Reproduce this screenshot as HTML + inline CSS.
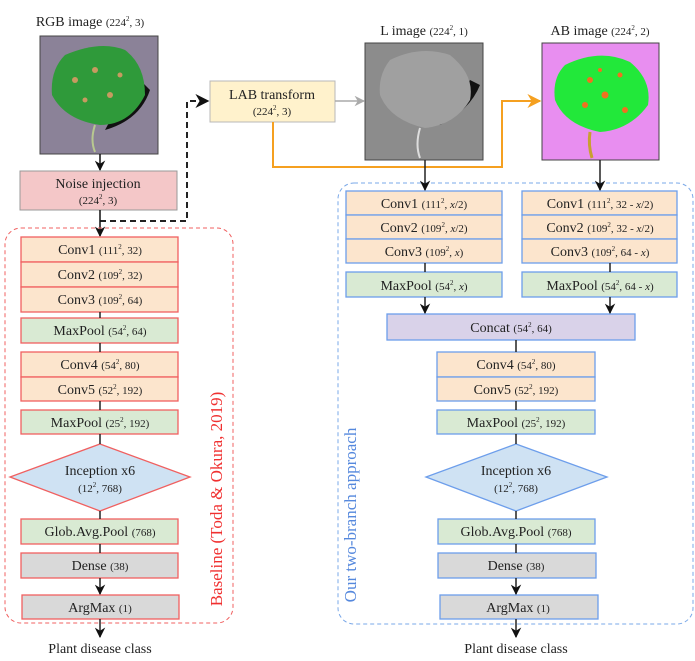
<!DOCTYPE html>
<html><head><meta charset="utf-8"><style>
body{margin:0;background:#fff}
svg{display:block;font-family:"Liberation Serif",serif}
text{fill:#222}
.s{font-size:11px}
.b{font-size:14px}
</style></head><body>
<svg width="695" height="661" viewBox="0 0 695 661" xmlns="http://www.w3.org/2000/svg">
<defs>
<marker id="a" viewBox="0 0 10 10" refX="9" refY="5" markerWidth="7" markerHeight="7" orient="auto"><path d="M0,0 L10,5 L0,10 L3,5z" fill="#111"/></marker>
<marker id="g" viewBox="0 0 10 10" refX="9" refY="5" markerWidth="7" markerHeight="7" orient="auto"><path d="M0,0 L10,5 L0,10 L3,5z" fill="#aaa"/></marker>
<marker id="o" viewBox="0 0 10 10" refX="9" refY="5" markerWidth="7" markerHeight="7" orient="auto"><path d="M0,0 L10,5 L0,10 L3,5z" fill="#f5a020"/></marker>
</defs>

<!-- titles -->
<text x="90" y="26" text-anchor="middle" class="b">RGB image <tspan class="s">(224</tspan><tspan font-size="7" dy="-5">2</tspan><tspan class="s" dy="5">, 3)</tspan></text>
<text x="424" y="35" text-anchor="middle" class="b">L image <tspan class="s">(224</tspan><tspan font-size="7" dy="-5">2</tspan><tspan class="s" dy="5">, 1)</tspan></text>
<text x="600" y="35" text-anchor="middle" class="b">AB image <tspan class="s">(224</tspan><tspan font-size="7" dy="-5">2</tspan><tspan class="s" dy="5">, 2)</tspan></text>

<!-- RGB image -->
<rect x="40" y="36" width="118" height="118" fill="#8b8298" stroke="#444"/>
<path d="M105,130 Q140,120 150,90 L135,75 Z" fill="#111"/>
<path d="M65,55 Q100,40 125,50 Q145,65 145,95 Q130,125 100,125 Q65,120 52,95 Q50,70 65,55Z" fill="#2f9a3a"/>
<path d="M95,125 Q90,140 95,152" stroke="#b8c890" stroke-width="2" fill="none"/>
<circle cx="75" cy="80" r="3" fill="#c89a60"/><circle cx="95" cy="70" r="3" fill="#c89a60"/><circle cx="110" cy="95" r="3" fill="#c89a60"/><circle cx="120" cy="75" r="2.5" fill="#c89a60"/><circle cx="85" cy="100" r="2.5" fill="#c89a60"/>

<!-- L image -->
<rect x="365" y="43" width="118" height="117" fill="#8c8c8c" stroke="#444"/>
<path d="M440,125 Q470,110 480,85 L470,80 Q455,110 430,120Z" fill="#111"/>
<path d="M390,60 Q420,45 450,55 Q475,75 470,100 Q455,125 425,128 Q390,120 380,95 Q378,75 390,60Z" fill="#a0a0a0"/>
<path d="M420,128 Q415,145 420,158" stroke="#ddd" stroke-width="2" fill="none"/>

<!-- AB image -->
<rect x="542" y="43" width="117" height="117" fill="#e88ef0" stroke="#444"/>
<path d="M565,65 Q600,48 630,62 Q652,80 648,105 Q630,130 600,132 Q565,125 555,100 Q552,78 565,65Z" fill="#22e83a"/>
<path d="M590,132 Q588,145 592,158" stroke="#c8a030" stroke-width="3" fill="none"/>
<circle cx="590" cy="80" r="3" fill="#f07020"/><circle cx="605" cy="95" r="3.5" fill="#f07020"/><circle cx="620" cy="75" r="2.5" fill="#f07020"/><circle cx="585" cy="105" r="3" fill="#f07020"/><circle cx="625" cy="110" r="3" fill="#f07020"/><circle cx="600" cy="70" r="2" fill="#f07020"/>

<!-- LAB transform -->
<rect x="210" y="81" width="125" height="41" fill="#fff2cc" stroke="#b8b8b8"/>
<text x="272" y="99" text-anchor="middle" class="b">LAB transform</text>
<text x="272" y="115" text-anchor="middle" class="s">(224<tspan font-size="7" dy="-5">2</tspan><tspan dy="5">, 3)</tspan></text>
<line x1="335" y1="101" x2="364" y2="101" stroke="#aaa" stroke-width="1.5" marker-end="url(#g)"/>
<polyline points="273,122 273,167 502,167 502,101 540,101" fill="none" stroke="#f5a020" stroke-width="2" marker-end="url(#o)"/>

<!-- Noise -->
<line x1="100" y1="154" x2="100" y2="170" stroke="#111" stroke-width="1.5" marker-end="url(#a)"/>
<rect x="20" y="171" width="157" height="39" fill="#f4c7c8" stroke="#999"/>
<text x="98" y="188" text-anchor="middle" class="b">Noise injection</text>
<text x="98" y="204" text-anchor="middle" class="s">(224<tspan font-size="7" dy="-5">2</tspan><tspan dy="5">, 3)</tspan></text>
<polyline points="100,221 187,221 187,101 208,101" fill="none" stroke="#222" stroke-width="2" stroke-dasharray="6,4" marker-end="url(#a)"/>
<line x1="100" y1="210" x2="100" y2="236" stroke="#111" stroke-width="1.5" marker-end="url(#a)"/>

<!-- red dashed container -->
<rect x="5" y="228" width="228" height="395" rx="16" fill="none" stroke="#f06060" stroke-dasharray="4,3"/>
<text transform="translate(222,499) rotate(-90)" text-anchor="middle" font-size="17" style="fill:#f03030">Baseline (Toda &amp; Okura, 2019)</text>

<!-- blue dashed container -->
<rect x="338" y="183" width="355" height="441" rx="16" fill="none" stroke="#7aa8e8" stroke-dasharray="4,3"/>
<text transform="translate(356,515) rotate(-90)" text-anchor="middle" font-size="17" style="fill:#5588dd">Our two-branch approach</text>

<!-- left column -->
<g stroke="#f06060" stroke-width="1.3">
<rect x="21" y="237" width="157" height="25" fill="#fce5cd"/>
<rect x="21" y="262" width="157" height="25" fill="#fce5cd"/>
<rect x="21" y="287" width="157" height="25" fill="#fce5cd"/>
<rect x="21" y="318" width="157" height="25" fill="#d9ead3"/>
<rect x="21" y="352" width="157" height="25" fill="#fce5cd"/>
<rect x="21" y="377" width="157" height="24" fill="#fce5cd"/>
<rect x="21" y="410" width="157" height="24" fill="#d9ead3"/>
<polygon points="100,444 190,477 100,511 10,477" fill="#cfe2f3"/>
<rect x="21" y="519" width="157" height="25" fill="#d9ead3"/>
<rect x="21" y="553" width="157" height="25" fill="#d9d9d9"/>
<rect x="22" y="595" width="157" height="24" fill="#d9d9d9"/>
</g>
<g stroke="#222" stroke-width="1.5">
<line x1="100" y1="312" x2="100" y2="318"/><line x1="100" y1="343" x2="100" y2="352"/>
<line x1="100" y1="401" x2="100" y2="410"/><line x1="100" y1="434" x2="100" y2="444"/>
<line x1="100" y1="511" x2="100" y2="519"/><line x1="100" y1="544" x2="100" y2="553"/>
<line x1="100" y1="578" x2="100" y2="594" marker-end="url(#a)"/>
<line x1="100" y1="619" x2="100" y2="637" marker-end="url(#a)"/>
</g>
<g text-anchor="middle" class="b">
<text x="100" y="254">Conv1 <tspan class="s">(111<tspan font-size="7" dy="-5">2</tspan><tspan dy="5">, 32)</tspan></tspan></text>
<text x="100" y="279">Conv2 <tspan class="s">(109<tspan font-size="7" dy="-5">2</tspan><tspan dy="5">, 32)</tspan></tspan></text>
<text x="100" y="304">Conv3 <tspan class="s">(109<tspan font-size="7" dy="-5">2</tspan><tspan dy="5">, 64)</tspan></tspan></text>
<text x="100" y="335">MaxPool <tspan class="s">(54<tspan font-size="7" dy="-5">2</tspan><tspan dy="5">, 64)</tspan></tspan></text>
<text x="100" y="369">Conv4 <tspan class="s">(54<tspan font-size="7" dy="-5">2</tspan><tspan dy="5">, 80)</tspan></tspan></text>
<text x="100" y="394">Conv5 <tspan class="s">(52<tspan font-size="7" dy="-5">2</tspan><tspan dy="5">, 192)</tspan></tspan></text>
<text x="100" y="427">MaxPool <tspan class="s">(25<tspan font-size="7" dy="-5">2</tspan><tspan dy="5">, 192)</tspan></tspan></text>
<text x="100" y="475">Inception x6</text>
<text x="100" y="492" class="s">(12<tspan font-size="7" dy="-5">2</tspan><tspan dy="5">, 768)</tspan></text>
<text x="100" y="536">Glob.Avg.Pool <tspan class="s">(768)</tspan></text>
<text x="100" y="570">Dense <tspan class="s">(38)</tspan></text>
<text x="100" y="612">ArgMax <tspan class="s">(1)</tspan></text>
<text x="100" y="653">Plant disease class</text>
</g>

<!-- right column -->
<g stroke="#6d9eeb" stroke-width="1.3">
<rect x="346" y="191" width="156" height="24" fill="#fce5cd"/>
<rect x="346" y="215" width="156" height="24" fill="#fce5cd"/>
<rect x="346" y="239" width="156" height="24" fill="#fce5cd"/>
<rect x="346" y="272" width="156" height="25" fill="#d9ead3"/>
<rect x="522" y="191" width="155" height="24" fill="#fce5cd"/>
<rect x="522" y="215" width="155" height="24" fill="#fce5cd"/>
<rect x="522" y="239" width="155" height="24" fill="#fce5cd"/>
<rect x="522" y="272" width="155" height="25" fill="#d9ead3"/>
<rect x="387" y="314" width="248" height="26" fill="#d9d2e9"/>
<rect x="437" y="352" width="158" height="25" fill="#fce5cd"/>
<rect x="437" y="377" width="158" height="24" fill="#fce5cd"/>
<rect x="437" y="410" width="158" height="24" fill="#d9ead3"/>
<polygon points="516,444 607,477 516,511 426,477" fill="#cfe2f3"/>
<rect x="438" y="519" width="157" height="25" fill="#d9ead3"/>
<rect x="438" y="553" width="158" height="25" fill="#d9d9d9"/>
<rect x="440" y="595" width="158" height="24" fill="#d9d9d9"/>
</g>
<g stroke="#222" stroke-width="1.5">
<line x1="425" y1="160" x2="425" y2="190" marker-end="url(#a)"/>
<line x1="600" y1="160" x2="600" y2="190" marker-end="url(#a)"/>
<line x1="425" y1="263" x2="425" y2="272"/><line x1="610" y1="263" x2="610" y2="272"/>
<line x1="425" y1="297" x2="425" y2="313" marker-end="url(#a)"/>
<line x1="610" y1="297" x2="610" y2="313" marker-end="url(#a)"/>
<line x1="516" y1="340" x2="516" y2="352"/><line x1="516" y1="401" x2="516" y2="410"/>
<line x1="516" y1="434" x2="516" y2="444"/><line x1="516" y1="511" x2="516" y2="519"/>
<line x1="516" y1="544" x2="516" y2="553"/>
<line x1="516" y1="578" x2="516" y2="594" marker-end="url(#a)"/>
<line x1="516" y1="619" x2="516" y2="637" marker-end="url(#a)"/>
</g>
<g text-anchor="middle" class="b">
<text x="424" y="208">Conv1 <tspan class="s">(111<tspan font-size="7" dy="-5">2</tspan><tspan dy="5">, </tspan><tspan font-style="italic">x</tspan>/2)</tspan></text>
<text x="424" y="232">Conv2 <tspan class="s">(109<tspan font-size="7" dy="-5">2</tspan><tspan dy="5">, </tspan><tspan font-style="italic">x</tspan>/2)</tspan></text>
<text x="424" y="256">Conv3 <tspan class="s">(109<tspan font-size="7" dy="-5">2</tspan><tspan dy="5">, </tspan><tspan font-style="italic">x</tspan>)</tspan></text>
<text x="424" y="290">MaxPool <tspan class="s">(54<tspan font-size="7" dy="-5">2</tspan><tspan dy="5">, </tspan><tspan font-style="italic">x</tspan>)</tspan></text>
<text x="600" y="208">Conv1 <tspan class="s">(111<tspan font-size="7" dy="-5">2</tspan><tspan dy="5">, 32 - </tspan><tspan font-style="italic">x</tspan>/2)</tspan></text>
<text x="600" y="232">Conv2 <tspan class="s">(109<tspan font-size="7" dy="-5">2</tspan><tspan dy="5">, 32 - </tspan><tspan font-style="italic">x</tspan>/2)</tspan></text>
<text x="600" y="256">Conv3 <tspan class="s">(109<tspan font-size="7" dy="-5">2</tspan><tspan dy="5">, 64 - </tspan><tspan font-style="italic">x</tspan>)</tspan></text>
<text x="600" y="290">MaxPool <tspan class="s">(54<tspan font-size="7" dy="-5">2</tspan><tspan dy="5">, 64 - </tspan><tspan font-style="italic">x</tspan>)</tspan></text>
<text x="511" y="332">Concat <tspan class="s">(54<tspan font-size="7" dy="-5">2</tspan><tspan dy="5">, 64)</tspan></tspan></text>
<text x="516" y="369">Conv4 <tspan class="s">(54<tspan font-size="7" dy="-5">2</tspan><tspan dy="5">, 80)</tspan></tspan></text>
<text x="516" y="394">Conv5 <tspan class="s">(52<tspan font-size="7" dy="-5">2</tspan><tspan dy="5">, 192)</tspan></tspan></text>
<text x="516" y="427">MaxPool <tspan class="s">(25<tspan font-size="7" dy="-5">2</tspan><tspan dy="5">, 192)</tspan></tspan></text>
<text x="516" y="475">Inception x6</text>
<text x="516" y="492" class="s">(12<tspan font-size="7" dy="-5">2</tspan><tspan dy="5">, 768)</tspan></text>
<text x="516" y="536">Glob.Avg.Pool <tspan class="s">(768)</tspan></text>
<text x="516" y="570">Dense <tspan class="s">(38)</tspan></text>
<text x="518" y="612">ArgMax <tspan class="s">(1)</tspan></text>
<text x="516" y="653">Plant disease class</text>
</g>
</svg>
</body></html>
